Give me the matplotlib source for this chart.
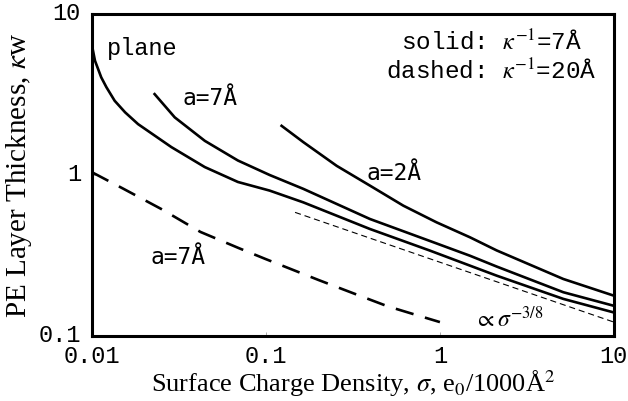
import numpy as np
import matplotlib
matplotlib.use("Agg")
import matplotlib.pyplot as plt
from matplotlib.transforms import ScaledTranslation

plt.rcParams['mathtext.fontset'] = 'stix'

# PE layer thickness (kappa*w) vs surface charge density sigma
# solid lines: kappa^-1 = 7 A
plane_sigma = [0.01, 0.0104, 0.0113, 0.0121, 0.0135, 0.0155, 0.0184, 0.0286, 0.0445, 0.069,
               0.105, 0.164, 0.396, 0.877, 2.12, 5.12, 10]
plane_w = [6.36, 5.13, 4.04, 3.51, 2.89, 2.45, 2.07, 1.49, 1.12, 0.905,
           0.80, 0.676, 0.462, 0.339, 0.237, 0.170, 0.140]

a7_sigma = [0.0229, 0.0299, 0.0445, 0.069, 0.105, 0.164, 0.396, 0.9, 1.49, 2.12, 5.12, 10]
a7_w = [3.18, 2.28, 1.63, 1.23, 1.0, 0.82, 0.533, 0.385, 0.315, 0.27, 0.187, 0.154]

a2_sigma = [0.123, 0.164, 0.255, 0.396, 0.616, 0.957, 1.49, 2.12, 5.12, 10]
a2_w = [2.02, 1.60, 1.14, 0.859, 0.645, 0.508, 0.41, 0.34, 0.226, 0.178]

# dashed line: kappa^-1 = 20 A, a = 7 A
a7_long_sigma = [0.01, 0.015, 0.025, 0.042, 0.07, 0.1, 0.2, 0.35, 0.5, 0.7, 1.0]
a7_long_w = [1.04, 0.826, 0.615, 0.443, 0.351, 0.30, 0.223, 0.177, 0.153, 0.137, 0.122]

# asymptotic power law ~ sigma^(-3/8)
asym_sigma = [0.147, 10]
asym_w = [0.586, 0.122]

mono = 'Liberation Mono'
serif = 'Liberation Serif'
sansmono = 'DejaVu Sans Mono'

fig = plt.figure(figsize=(6.28, 4.02), dpi=100)
ax = fig.add_axes([0.1465, 0.1617, 0.831, 0.801])

ax.plot(plane_sigma, plane_w, color='black', lw=1.9)
ax.plot(a7_sigma, a7_w, color='black', lw=1.9)
ax.plot(a2_sigma, a2_w, color='black', lw=1.9)
ax.plot(a7_long_sigma, a7_long_w, color='black', lw=1.9, dashes=(7, 4.5))
ax.plot(asym_sigma, asym_w, color='black', lw=0.8, dashes=(5.5, 3.5))

ax.set_xscale('log')
ax.set_yscale('log')
ax.set_xlim(0.01, 10)
ax.set_ylim(0.1, 10)

ax.set_xticks([0.01, 0.1, 1, 10])
ax.set_xticklabels(['0.01', '0.1', '1', '10'])
ax.set_yticks([0.1, 1, 10])
ax.set_yticklabels(['0.1', '1', '10'])
ax.minorticks_off()
ax.tick_params(direction='in', length=3, width=0.5, color='#888888')
ax.tick_params(axis='x', pad=6)
ax.tick_params(axis='y', pad=8)
for lab in ax.get_xticklabels() + ax.get_yticklabels():
    lab.set_fontfamily(mono)
    lab.set_fontsize(17)
# nudge y tick labels up a little so the bottom one clears the x labels
shift = ScaledTranslation(0, 3 / 72, fig.dpi_scale_trans)
for lab in ax.get_yticklabels():
    lab.set_verticalalignment('center_baseline')
    lab.set_transform(lab.get_transform() + shift)

for sp in ax.spines.values():
    sp.set_linewidth(2.2)

ax.set_xlabel(r'Surface Charge Density, $\sigma$, e$_0$/1000Å$^2$',
              family=serif, fontsize=19, labelpad=0)
ax.set_ylabel(r'PE Layer Thickness, $\kappa$w', family=serif, fontsize=21, labelpad=3)

# curve labels
ax.text(0.0122, 6.2, 'plane', family=mono, fontsize=17, va='center')
ax.text(0.0333, 3.05, 'a=7Å', family=sansmono, fontsize=16.5, va='center')
ax.text(0.38, 1.04, 'a=2Å', family=sansmono, fontsize=16.5, va='center')
ax.text(0.0218, 0.31, 'a=7Å', family=sansmono, fontsize=16.5, va='center')
ax.text(1.57, 0.128, r'$\propto\sigma^{-3/8}$', fontsize=17, va='center')

ax.text(0.939, 0.916, r'solid: $\kappa^{-1}$=7Å', family=mono, fontsize=17.5,
        ha='right', va='center', transform=ax.transAxes)
ax.text(0.9655, 0.823, r'dashed: $\kappa^{-1}$=20Å', family=mono, fontsize=17.5,
        ha='right', va='center', transform=ax.transAxes)

fig.savefig('out.png', dpi=100)
